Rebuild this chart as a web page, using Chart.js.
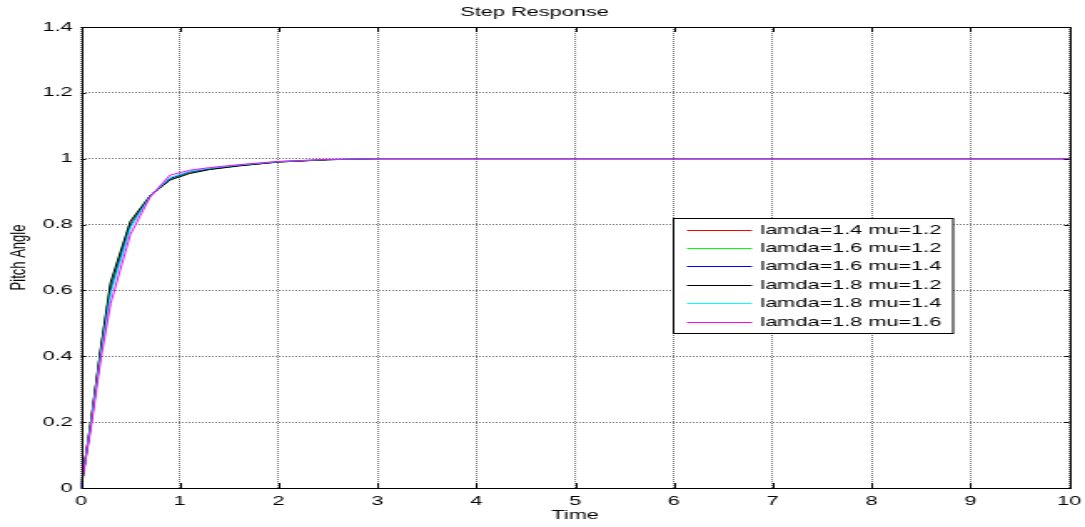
<!DOCTYPE html>
<html>
<head>
<meta charset="utf-8">
<script src="https://cdn.jsdelivr.net/npm/chart.js@4.4.0/dist/chart.umd.min.js"></script>
<style>
html, body { margin: 0; padding: 0; background: #fff; overflow: hidden; }
/* the source figure is stretched sideways, so the canvas is too */
#wrap { width: 650px; height: 527px; transform: scaleX(1.66923); transform-origin: 0 0; }
</style>
</head>
<body>
<div id="wrap"><canvas id="c" width="650" height="527"></canvas></div>
<script>
// time samples (s)
const time = [0, 0.1, 0.2, 0.3, 0.5, 0.7, 0.9, 1.1, 1.3, 1.6, 2.0, 2.5, 3.0, 10];

// step response for each lamda / mu pair
const l14m12 = [0, 0.20, 0.42, 0.615, 0.805, 0.887, 0.937, 0.957, 0.968, 0.979, 0.990, 0.997, 1.0, 1.0];
const l16m12 = [0, 0.20, 0.42, 0.618, 0.808, 0.888, 0.936, 0.956, 0.968, 0.979, 0.990, 0.997, 1.0, 1.0];
const l16m14 = [0, 0.19, 0.41, 0.600, 0.795, 0.887, 0.940, 0.960, 0.970, 0.980, 0.991, 0.997, 1.0, 1.0];
const l18m12 = [0, 0.20, 0.425, 0.625, 0.810, 0.888, 0.935, 0.955, 0.967, 0.978, 0.990, 0.997, 1.0, 1.0];
const l18m14 = [0, 0.19, 0.405, 0.590, 0.790, 0.886, 0.943, 0.962, 0.971, 0.981, 0.991, 0.998, 1.0, 1.0];
const l18m16 = [0, 0.18, 0.39, 0.560, 0.770, 0.884, 0.950, 0.965, 0.973, 0.982, 0.992, 0.998, 1.0, 1.0];

const seriesData = [l14m12, l16m12, l16m14, l18m12, l18m14, l18m16];
const seriesLabels = ['lamda=1.4 mu=1.2', 'lamda=1.6 mu=1.2', 'lamda=1.6 mu=1.4',
                      'lamda=1.8 mu=1.2', 'lamda=1.8 mu=1.4', 'lamda=1.8 mu=1.6'];
const seriesColors = ['#ff0000', '#00ff00', '#0000ff', '#000000', '#00ffff', '#ff00ff'];

const xTicks = [0, 1, 2, 3, 4, 5, 6, 7, 8, 9, 10];
const yTicks = [0, 0.2, 0.4, 0.6, 0.8, 1, 1.2, 1.4];

const FONT = '"Liberation Sans", Arial, sans-serif';
Chart.defaults.font.family = FONT;
Chart.defaults.font.size = 13;
Chart.defaults.color = '#000';

// black box with inward tick marks, like matlab axes
const frame = {
    id: 'frame',
    afterDatasetsDraw(chart) {
        const {ctx, chartArea: a, scales} = chart;
        ctx.save();
        ctx.strokeStyle = '#000';
        ctx.lineWidth = 1;
        ctx.beginPath();
        xTicks.forEach(v => {
            const px = Math.round(scales.x.getPixelForValue(v)) + 0.5;
            ctx.moveTo(px, a.bottom); ctx.lineTo(px, a.bottom - 5);
            ctx.moveTo(px, a.top); ctx.lineTo(px, a.top + 5);
        });
        yTicks.forEach(v => {
            const py = Math.round(scales.y.getPixelForValue(v)) + 0.5;
            ctx.moveTo(a.left, py); ctx.lineTo(a.left + 3, py);
            ctx.moveTo(a.right, py); ctx.lineTo(a.right - 3, py);
        });
        ctx.stroke();
        ctx.strokeRect(Math.round(a.left) + 0.5, Math.round(a.top) + 0.5,
                       Math.round(a.right - a.left), Math.round(a.bottom - a.top));
        ctx.restore();
    }
};

// legend box inside the plot
const legendBox = {
    id: 'legendBox',
    afterDraw(chart) {
        const ctx = chart.ctx;
        const x = 403.5, y = 218.5, w = 167.5, h = 115;
        ctx.save();
        ctx.fillStyle = '#fff';
        ctx.fillRect(x, y, w, h);
        ctx.strokeStyle = '#000';
        ctx.lineWidth = 1;
        ctx.strokeRect(x, y, w, h);
        ctx.font = '13px ' + FONT;
        ctx.textBaseline = 'middle';
        chart.data.datasets.forEach((ds, i) => {
            const yy = Math.round(y + 11 + i * 18.4) + 0.5;
            ctx.strokeStyle = ds.borderColor;
            ctx.beginPath();
            ctx.moveTo(x + 8, yy);
            ctx.lineTo(x + 47, yy);
            ctx.stroke();
            ctx.fillStyle = '#000';
            ctx.fillText(ds.label, x + 52, yy);
        });
        ctx.restore();
    }
};

const ctx = document.getElementById('c').getContext('2d');
new Chart(ctx, {
    type: 'line',
    data: {
        datasets: seriesData.map((d, i) => ({
            label: seriesLabels[i],
            data: time.map((t, j) => ({x: t, y: d[j]})),
            borderColor: seriesColors[i],
            backgroundColor: seriesColors[i],
            borderWidth: 1,
            pointRadius: 0,
            tension: 0,
            fill: false,
            order: seriesData.length - 1 - i
        }))
    },
    options: {
        responsive: false,
        animation: false,
        devicePixelRatio: 1,
        layout: {padding: {left: 0, right: 9.5, top: 0, bottom: 0}},
        plugins: {
            legend: {display: false},
            tooltip: {enabled: false},
            title: {
                display: true,
                text: 'Step Response',
                font: {size: 13, weight: 'normal'},
                color: '#000',
                padding: {top: 5, bottom: 6.4}
            }
        },
        scales: {
            x: {
                type: 'linear',
                min: 0,
                max: 10,
                afterBuildTicks: s => { s.ticks = xTicks.map(v => ({value: v})); },
                afterFit: s => { s.height = 39; s.paddingLeft = 0; s.paddingRight = 0; },
                ticks: {padding: 6, maxRotation: 0, color: '#000', callback: v => String(v)},
                grid: {color: 'rgba(0,0,0,0.55)', drawTicks: false, lineWidth: 1},
                border: {display: false, dash: [1, 1]},
                title: {display: true, text: 'Time', font: {size: 13}, color: '#000', padding: {top: 0, bottom: 4}}
            },
            y: {
                min: 0,
                max: 1.4,
                afterBuildTicks: s => { s.ticks = yTicks.map(v => ({value: v})); },
                afterFit: s => { s.width = 48.5; s.paddingTop = 0; s.paddingBottom = 0; },
                ticks: {padding: 5, color: '#000', callback: v => String(+v.toFixed(2))},
                grid: {color: 'rgba(0,0,0,0.55)', drawTicks: false, lineWidth: 1},
                border: {display: false, dash: [1, 1]},
                title: {display: true, text: 'Pitch Angle', font: {size: 13}, color: '#000', padding: {top: 3.5, bottom: 0}}
            }
        }
    },
    plugins: [frame, legendBox]
});
</script>
</body>
</html>
